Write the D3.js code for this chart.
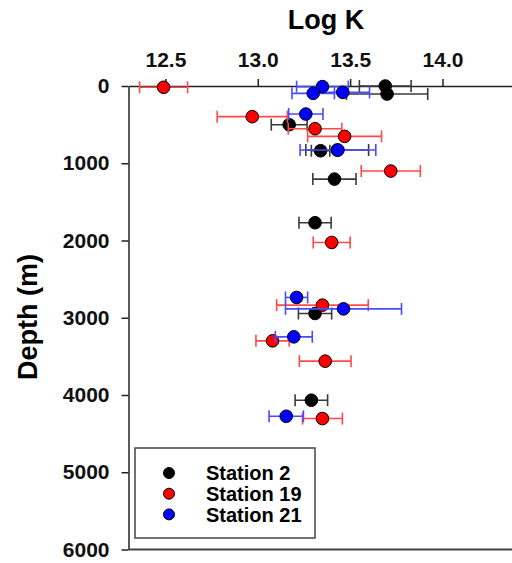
<!DOCTYPE html>
<html>
<head>
<meta charset="utf-8">
<script src="https://cdn.jsdelivr.net/npm/d3@7"></script>
<style>
  body { margin: 0; background: #fff; }
  svg { display: block; font-family: "Liberation Sans", Arial, sans-serif; }
  .tick text { font-weight: bold; fill: #111; }
</style>
</head>
<body>
<div class="chart"></div>
<script>
// Station 2
const st2LogK  = [13.69, 13.70, 13.17, 13.43, 13.34, 13.415, 13.31, 13.31, 13.29]
const st2Depth = [0, 104, 501, 829, 838, 1205, 1770, 2945, 4067]
const st2Err   = [0.14, 0.22, 0.097, 0.17, 0.05, 0.117, 0.087, 0.09, 0.088]

// Station 19
const st19LogK  = [12.49, 12.97, 13.31, 13.47, 13.72, 13.40, 13.35, 13.08, 13.365, 13.35]
const st19Depth = [17, 397, 553, 652, 1101, 2025, 2837, 3299, 3562, 4305]
const st19Err   = [0.13, 0.19, 0.145, 0.2, 0.16, 0.1, 0.248, 0.09, 0.14, 0.108]

// Station 21
const st21LogK  = [13.35, 13.30, 13.46, 13.26, 13.434, 13.21, 13.464, 13.195, 13.154]
const st21Depth = [8, 95, 82, 363, 829, 2737, 2885, 3247, 4275]
const st21Err   = [0.14, 0.115, 0.145, 0.093, 0.205, 0.06, 0.314, 0.1, 0.093]

const xTicks = [12.5, 13.0, 13.5, 14.0]
const yTicks = [0, 1000, 2000, 3000, 4000, 5000, 6000]
const stationNames = ["Station 2", "Station 19", "Station 21"]

function makeSeries(logK, depth, err) {
  return logK.map((v, i) => ({ v: v, d: depth[i], e: err[i] }))
}

const series = [
  { name: stationNames[0], fill: "#000000", bar: "#3a3a3a", points: makeSeries(st2LogK, st2Depth, st2Err) },
  { name: stationNames[1], fill: "#ff0000", bar: "#ff4a4a", points: makeSeries(st19LogK, st19Depth, st19Err) },
  { name: stationNames[2], fill: "#0000ff", bar: "#4a4aff", points: makeSeries(st21LogK, st21Depth, st21Err) }
]

const width = 512
const height = 563

const svg = d3.select(".chart").append("svg")
  .attr("width", width)
  .attr("height", height)

const x = d3.scaleLinear()
  .domain([12.3, 14.5])
  .range([128.5, 128.5 + 2.2 * 184.7])

const y = d3.scaleLinear()
  .domain([0, 6000])
  .range([86, 549.5])

// title
svg.append("text")
  .attr("x", 326)
  .attr("y", 29)
  .attr("text-anchor", "middle")
  .style("font-size", "27px")
  .style("font-weight", "bold")
  .text("Log K")

// y title
svg.append("text")
  .attr("transform", "translate(37,317) rotate(-90)")
  .attr("text-anchor", "middle")
  .style("font-size", "27px")
  .style("font-weight", "bold")
  .text("Depth (m)")

// top axis
const xAxis = svg.append("g")
  .attr("transform", `translate(0,${y(0)})`)
  .call(d3.axisTop(x).tickValues(xTicks).tickSize(7).tickSizeOuter(0).tickFormat(d3.format(".1f")))
xAxis.selectAll("text")
  .attr("y", -19)
  .attr("dy", 0)
  .style("font-size", "21px")

// left axis
const yAxis = svg.append("g")
  .attr("transform", `translate(${x.range()[0]},0)`)
  .call(d3.axisLeft(y).tickValues(yTicks).tickSize(7).tickSizeOuter(0).tickFormat(d3.format("d")))
yAxis.selectAll("text")
  .attr("x", -19)
  .style("font-size", "21px")

svg.selectAll(".domain, .tick line")
  .attr("stroke", "#222")
  .attr("stroke-width", 1.5)

// bottom frame line
svg.append("line")
  .attr("x1", x.range()[0])
  .attr("x2", width)
  .attr("y1", y(6000))
  .attr("y2", y(6000))
  .attr("stroke", "#444")
  .attr("stroke-width", 2)

// error bars and symbols
const cap = 6
series.forEach(s => {
  const g = svg.append("g")
  const bars = g.selectAll(".err")
    .data(s.points)
    .enter().append("g")
    .attr("stroke", s.bar)
    .attr("stroke-width", 1.6)

  bars.append("line")
    .attr("x1", d => x(d.v - d.e))
    .attr("x2", d => x(d.v + d.e))
    .attr("y1", d => y(d.d))
    .attr("y2", d => y(d.d))
  bars.append("line")
    .attr("x1", d => x(d.v - d.e))
    .attr("x2", d => x(d.v - d.e))
    .attr("y1", d => y(d.d) - cap)
    .attr("y2", d => y(d.d) + cap)
  bars.append("line")
    .attr("x1", d => x(d.v + d.e))
    .attr("x2", d => x(d.v + d.e))
    .attr("y1", d => y(d.d) - cap)
    .attr("y2", d => y(d.d) + cap)

  g.selectAll("circle")
    .data(s.points)
    .enter().append("circle")
    .attr("cx", d => x(d.v))
    .attr("cy", d => y(d.d))
    .attr("r", 6.3)
    .attr("fill", s.fill)
    .attr("stroke", "#000")
    .attr("stroke-width", 1)
})

// legend
const legend = svg.append("g")
legend.append("rect")
  .attr("x", 135)
  .attr("y", 448)
  .attr("width", 180)
  .attr("height", 90)
  .attr("fill", "#fff")
  .attr("stroke", "#444")
  .attr("stroke-width", 1.5)

const items = legend.selectAll(".item")
  .data(series)
  .enter().append("g")
  .attr("transform", (d, i) => `translate(0,${473 + i * 20.7})`)

items.append("circle")
  .attr("cx", 169)
  .attr("r", 5.5)
  .attr("fill", d => d.fill)
  .attr("stroke", "#000")
  .attr("stroke-width", 1)

items.append("text")
  .attr("x", 206)
  .attr("dy", "0.36em")
  .style("font-size", "20px")
  .style("font-weight", "bold")
  .text(d => d.name)
</script>
</body>
</html>
